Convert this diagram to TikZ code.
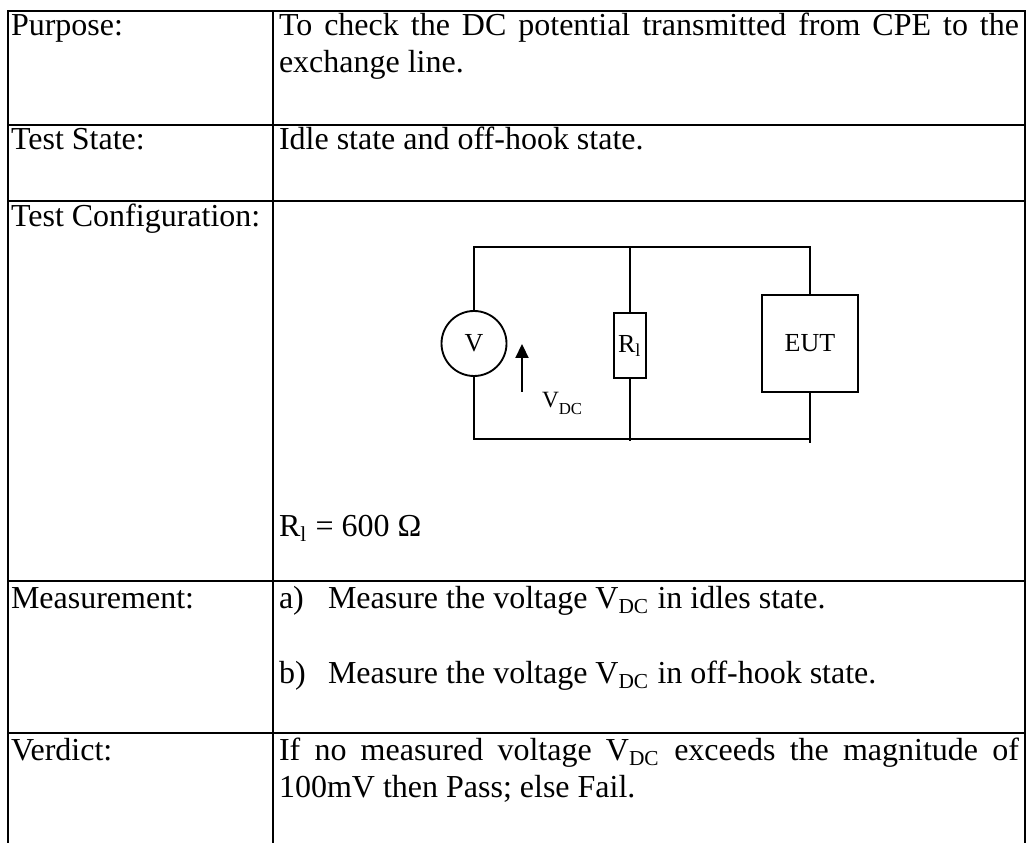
\documentclass[tikz,border=0pt]{standalone}
\usepackage{fontspec}
\setmainfont{Liberation Serif}
\usetikzlibrary{arrows.meta}
\newlength{\pxu}
\setlength{\pxu}{0.375pt}
\begin{document}
\begin{tikzpicture}[x=\pxu,y=-\pxu,
  grid/.style={line width=1pt,line cap=rect},
  wire/.style={line width=0.7pt},
  txt/.style={anchor=base west,inner sep=0pt,outer sep=0pt,font=\fontsize{12}{14}\selectfont},
  comp/.style={draw,line width=0.7pt,inner sep=0pt,outer sep=0pt,font=\fontsize{9.75}{11}\selectfont},
  ctxt/.style={inner sep=0pt,outer sep=0pt,font=\fontsize{8.75}{10}\selectfont}]
\useasboundingbox (0,0) rectangle (1028,843);
% table grid
\draw[grid] (8,843) -- (8,11) -- (1025,11) -- (1025,843);
\draw[grid] (273,11) -- (273,843);
\foreach \y in {125,201,581,733} \draw[grid] (8,\y) -- (1025,\y);
% texts
\node[txt] (purpose) at (11,36) {Purpose:};
\node[txt] (purpose1) at (279,36) {\makebox[740\pxu][s]{To check the DC potential transmitted from CPE to the}};
\node[txt] (purpose2) at (279,73) {exchange line.};
\node[txt] (state) at (11,150) {Test State:};
\node[txt] (state1) at (279,150) {Idle state and off-hook state.};
\node[txt] (config) at (11,227) {Test Configuration:};
\node[txt] (rlval) at (279,537) {R\textsubscript{l} = 600 Ω};
\node[txt] (meas) at (11,609) {Measurement:};
\node[txt] (ma) at (279,609) {a)};
\node[txt] (ma1) at (328,609) {Measure the voltage V\textsubscript{DC} in idles state.};
\node[txt] (mb) at (279,684) {b)};
\node[txt] (mb1) at (328,684) {Measure the voltage V\textsubscript{DC} in off-hook state.};
\node[txt] (verdict) at (11,761) {Verdict:};
\node[txt] (v1) at (279,761) {\makebox[740\pxu][s]{If no measured voltage V\textsubscript{DC} exceeds the magnitude of}};
\node[txt] (v2) at (279,798) {100mV then Pass; else Fail.};
% circuit
\coordinate (tl) at (474,247);
\coordinate (tm) at (630,247);
\coordinate (tr) at (810,247);
\coordinate (bl) at (474,439);
\coordinate (bm) at (630,441);
\coordinate (brw) at (810,439);
\coordinate (brend) at (810,443);
\node[comp,circle,minimum size=65\pxu] (vm) at (474,343.5) {V};
\node[comp,rectangle,minimum width=32\pxu,minimum height=65\pxu] (res) at (630,345.5) {R\textsubscript{l}};
\node[comp,rectangle,minimum width=96\pxu,minimum height=97\pxu] (eut) at (810,343.5) {EUT};
\draw[wire] (vm.north) -- (tl) -- (tr) -- (eut.north);
\draw[wire] (tm) -- (res.north);
\draw[wire] (res.south) -- (bm);
\draw[wire] (vm.south) -- (bl) -- (brw);
\draw[wire] (eut.south) -- (brend);
\coordinate (atail) at (522,392);
\coordinate (ahead) at (522,344);
\draw[wire,-{Triangle[length=5.25pt,width=4.9pt]}] (atail) -- (ahead);
\node[ctxt,anchor=base west] (vdc) at (542,408) {V\raisebox{-2.6pt}{\fontsize{6.3}{7}\selectfont DC}};
\end{tikzpicture}
\end{document}
